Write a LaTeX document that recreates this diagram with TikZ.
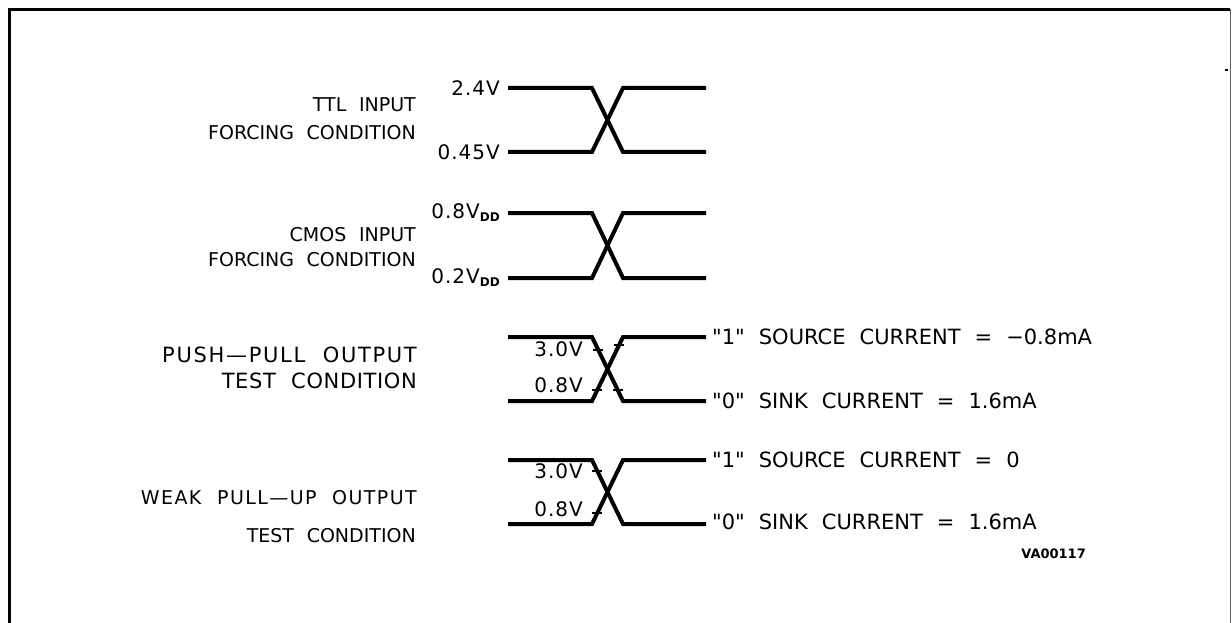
\documentclass[tikz,border=0pt]{standalone}
\usepackage{fontspec}
\setmainfont{DejaVu Sans}
\newfontfamily\labfont{DejaVu Sans}[WordSpace=2.1]
\newfontfamily\voltfont{DejaVu Sans}[LetterSpace=5]
\newfontfamily\subfont{DejaVu Sans Bold}
\begin{document}
\begin{tikzpicture}[x=1pt,y=-1pt,
  wave/.style={line width=4pt,line join=miter},
  tick/.style={line width=1.6pt},
  frameline/.style={line width=3pt,black},
  volt/.style={inner sep=0pt,anchor=east,font=\voltfont\fontsize{20}{22}\selectfont},
  leftlab/.style={inner sep=0pt,anchor=east,font=\labfont\fontsize{19}{21}\selectfont},
  rightlab/.style={inner sep=0pt,anchor=west,font=\labfont\fontsize{21}{23}\selectfont}]
\useasboundingbox (0,0) rectangle (1232,623);
% frame
\draw[frameline] (9.5,623) -- (9.5,10) -- (1230,10);
\draw[line width=1.5pt,black!60] (1230.5,9) -- (1230.5,623);
\fill (1225,69) rectangle (1227.5,71.5);
% waves
\newcommand{\wavepair}[2]{%
  \draw[wave] (508,#1) -- (592,#1) -- (623,#2) -- (706,#2);
  \draw[wave] (508,#2) -- (592,#2) -- (623,#1) -- (706,#1);}
\wavepair{88}{152}
\wavepair{213}{278}
\wavepair{337}{401}
\wavepair{460}{524}
% ticks push-pull
\newcommand{\tickat}[2]{\draw[tick] (#1-5,#2) -- (#1+5,#2);}
\tickat{598.3}{350}
\tickat{619.1}{345}
\tickat{617.7}{390}
\tickat{597.3}{390}
% ticks weak pull-up
\tickat{597.3}{471}
\tickat{597.3}{513}
% voltage labels
\node[volt] (v1) at (500,88) {2.4V};
\node[volt] (v2) at (500,152) {0.45V};
\node[volt] (v3) at (500,213) {0.8V\raisebox{-3pt}{\subfont\fontsize{12}{12}\selectfont DD}};
\node[volt] (v4) at (500,278) {0.2V\raisebox{-3pt}{\subfont\fontsize{12}{12}\selectfont DD}};
\node[volt] (v5) at (583,349) {3.0V};
\node[volt] (v6) at (583,385) {0.8V};
\node[volt] (v7) at (583,471) {3.0V};
\node[volt] (v8) at (583,509) {0.8V};
% left labels
\node[leftlab] (l1a) at (416,105) {TTL INPUT};
\node[leftlab] (l1b) at (416,133) {FORCING CONDITION};
\node[leftlab] (l2a) at (416,235) {CMOS INPUT};
\node[leftlab] (l2b) at (416,260) {FORCING CONDITION};
\node[leftlab,font=\labfont\fontsize{21}{23}\selectfont\addfontfeature{LetterSpace=8}] (l3a) at (417,355) {PUSH—PULL OUTPUT};
\node[leftlab,font=\labfont\fontsize{21}{23}\selectfont\addfontfeature{LetterSpace=3}] (l3b) at (417,381) {TEST CONDITION};
\node[leftlab,font=\labfont\fontsize{19}{21}\selectfont\addfontfeature{LetterSpace=7.5}] (l4a) at (417,498) {WEAK PULL—UP OUTPUT};
\node[leftlab] (l4b) at (416,536) {TEST CONDITION};
% right labels
\node[rightlab] (r1) at (712,337) {"1" SOURCE CURRENT = −0.8mA};
\node[rightlab] (r2) at (712,401) {"0" SINK CURRENT = 1.6mA};
\node[rightlab] (r3) at (712,460) {"1" SOURCE CURRENT = 0};
\node[rightlab] (r4) at (712,522) {"0" SINK CURRENT = 1.6mA};
\node[inner sep=0pt,anchor=east,font=\subfont\fontsize{13}{15}\selectfont] (id) at (1086,554) {VA00117};
\end{tikzpicture}
\end{document}
